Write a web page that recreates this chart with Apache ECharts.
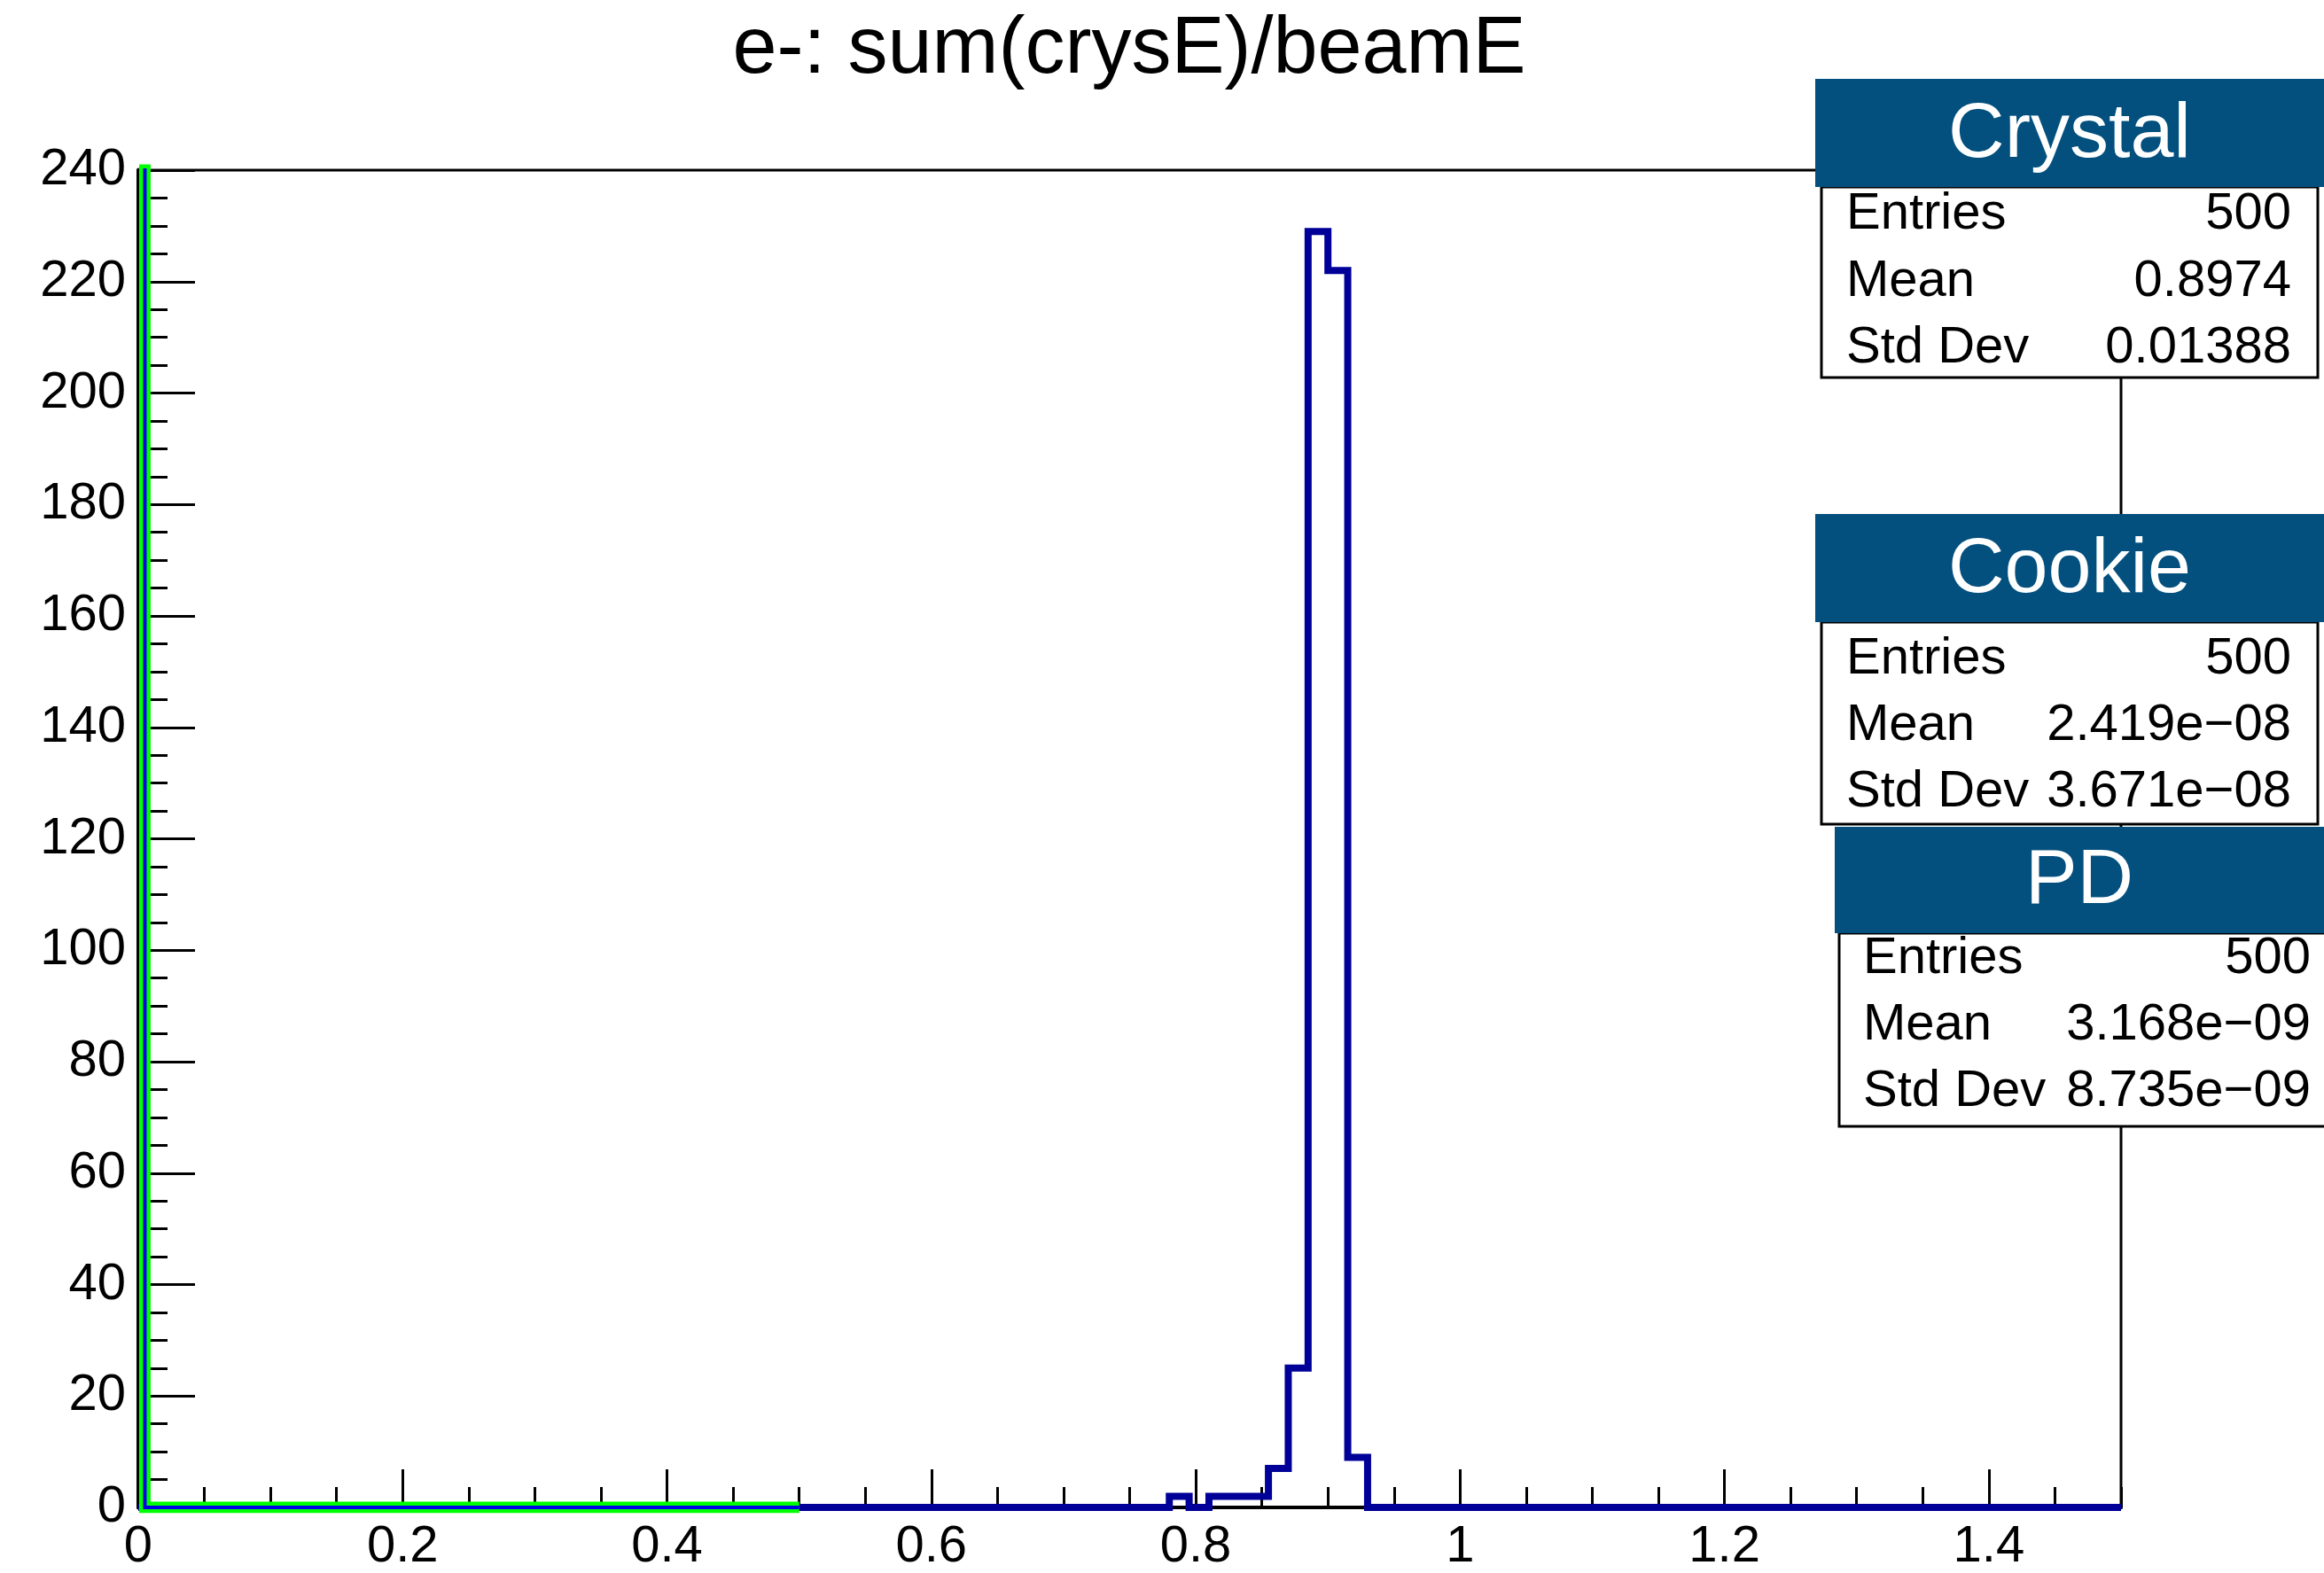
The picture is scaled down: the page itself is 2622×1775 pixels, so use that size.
<!DOCTYPE html>
<html><head><meta charset="utf-8">
<script src="https://cdn.jsdelivr.net/npm/echarts@6/dist/echarts.min.js"></script>
<style>html,body{margin:0;padding:0;background:#fff}#c{width:2622px;height:1775px}</style>
</head><body><div id="c"></div>
<script>
// ---- data ----
const titleText = 'e-: sum(crysE)/beamE';
const xMajorTicks = [0, 0.2, 0.4, 0.6, 0.8, 1, 1.2, 1.4];
const xRange = [0, 1.5];
const xMinorStep = 0.05;
const yMajorTicks = [0, 20, 40, 60, 80, 100, 120, 140, 160, 180, 200, 220, 240];
const yMinorStep = 5;

// Crystal histogram (variable-width representation of 100 bins over 0..1.5; unlisted bins are 0)
const crystalEdges  = [0, 0.78, 0.795, 0.81, 0.825, 0.84, 0.855, 0.87, 0.885, 0.9, 0.915, 0.93, 1.5];
const crystalCounts = [0, 2, 0, 2, 2, 2, 7, 25, 229, 222, 9, 0];
// Cookie histogram: all entries in first bin
const cookieEdges  = [0, 0.005, 0.5];
const cookieCounts = [500, 0];
// PD histogram: all entries in first bin
const pdEdges  = [0, 0.005, 0.5];
const pdCounts = [500, 0];

const statNames   = ['Crystal', 'Cookie', 'PD'];
const statLabels  = ['Entries', 'Mean', 'Std Dev'];
const statEntries = ['500', '500', '500'];
const statMeans   = ['0.8974', '2.419e\u221208', '3.168e\u221209'];
const statStdDevs = ['0.01388', '3.671e\u221208', '8.735e\u221209'];

// ---- helpers ----
function stepPath(edges, counts) {
  const pts = [];
  for (let i = 0; i < counts.length; i++) {
    pts.push([edges[i], counts[i]]);
    pts.push([edges[i + 1], counts[i]]);
  }
  return pts;
}

const FONT = '"Liberation Sans", Arial, Helvetica, sans-serif';
const chart = echarts.init(document.getElementById('c'), null, {renderer: 'canvas'});

const G = {left: 156, right: 229, top: 192, bottom: 70};

// stats box layout (tb / rb are text baselines)
const boxLayout = [
  {hx: 2048, hy: 89,  hw: 574, hh: 122, bx: 2055, by: 211,  bw: 560, bh: 215, tb: 184,  lx: 2083, vx: 2585, rb: [262, 338, 413]},
  {hx: 2048, hy: 580, hw: 574, hh: 122, bx: 2055, by: 702,  bw: 560, bh: 228, tb: 675,  lx: 2083, vx: 2585, rb: [764, 839, 914]},
  {hx: 2070, hy: 933, hw: 552, hh: 120, bx: 2075, by: 1053, bw: 600, bh: 218, tb: 1026, lx: 2102, vx: 2607, rb: [1102, 1177, 1252]}
];
const HS = 88, RS = 58, TS = 90;
const mid = (baseline, size) => baseline - 0.35 * size;
const graphics = [];
boxLayout.forEach((b, i) => {
  graphics.push({type: 'rect', z: 100, shape: {x: b.bx, y: b.by, width: b.bw, height: b.bh},
    style: {fill: '#fff', stroke: '#000', lineWidth: 3}});
  graphics.push({type: 'rect', z: 101, shape: {x: b.hx, y: b.hy, width: b.hw, height: b.hh},
    style: {fill: '#03507f'}});
  graphics.push({type: 'text', z: 102, x: b.hx + b.hw / 2, y: mid(b.tb, HS),
    style: {text: statNames[i], fill: '#fff', font: HS + 'px ' + FONT, textAlign: 'center', verticalAlign: 'middle'}});
  const vals = [statEntries[i], statMeans[i], statStdDevs[i]];
  statLabels.forEach((lab, r) => {
    graphics.push({type: 'text', z: 102, x: b.lx, y: mid(b.rb[r], RS),
      style: {text: lab, fill: '#000', font: RS + 'px ' + FONT, textAlign: 'left', verticalAlign: 'middle'}});
    graphics.push({type: 'text', z: 102, x: b.vx, y: mid(b.rb[r], RS),
      style: {text: vals[r], fill: '#000', font: RS + 'px ' + FONT, textAlign: 'right', verticalAlign: 'middle'}});
  });
});
graphics.push({type: 'text', z: 102, x: 1274, y: mid(89, TS),
  style: {text: titleText, fill: '#000', font: TS + 'px ' + FONT, textAlign: 'center', verticalAlign: 'middle'}});

const yMin = yMajorTicks[0], yMax = yMajorTicks[yMajorTicks.length - 1];
const yInt = yMajorTicks[1] - yMajorTicks[0];
const xInt = xMajorTicks[1] - xMajorTicks[0];

chart.setOption({
  animation: false,
  backgroundColor: '#fff',
  grid: {left: G.left, right: G.right, top: G.top, bottom: G.bottom, show: true,
    borderColor: '#000', borderWidth: 3, backgroundColor: 'transparent', containLabel: false},
  xAxis: [
    {type: 'value', min: xRange[0], max: xRange[1], interval: xMinorStep, position: 'bottom',
      axisLine: {show: true, onZero: false, lineStyle: {color: '#000', width: 4}},
      axisTick: {show: true, inside: true, length: 23, lineStyle: {color: '#000', width: 3}},
      axisLabel: {show: false}, splitLine: {show: false}},
    {type: 'value', min: xRange[0], max: xRange[1], interval: xInt, position: 'bottom',
      axisLine: {show: false, onZero: false},
      axisTick: {show: true, inside: true, length: 43, lineStyle: {color: '#000', width: 3}},
      axisLabel: {show: true, color: '#000', fontSize: 58, fontFamily: FONT, margin: 16, showMaxLabel: false,
        formatter: v => { const k = xMajorTicks.indexOf(Math.round(v * 1000) / 1000); return k >= 0 ? String(xMajorTicks[k]) : ''; }},
      splitLine: {show: false}}
  ],
  yAxis: {type: 'value', min: yMin, max: yMax, interval: yInt,
    axisLine: {show: true, onZero: false, lineStyle: {color: '#000', width: 5}},
    axisTick: {show: true, inside: true, length: 64, lineStyle: {color: '#000', width: 3}},
    minorTick: {show: true, splitNumber: yInt / yMinorStep, length: 33, lineStyle: {color: '#000', width: 3}},
    axisLabel: {show: true, color: '#000', fontSize: 58, fontFamily: FONT, margin: 14},
    splitLine: {show: false}, minorSplitLine: {show: false}},
  series: [
    {name: 'Crystal', type: 'line', xAxisIndex: 0, data: stepPath(crystalEdges, crystalCounts),
      showSymbol: false, symbol: 'none', clip: true, z: 3,
      lineStyle: {color: '#000099', width: 8, join: 'miter'}},
    {name: 'PD', type: 'line', xAxisIndex: 0, data: stepPath(pdEdges, pdCounts),
      showSymbol: false, symbol: 'none', clip: true, z: 4,
      lineStyle: {color: '#00ff00', width: 13, join: 'miter'}},
    {name: 'Cookie', type: 'line', xAxisIndex: 0, data: stepPath(cookieEdges, cookieCounts),
      showSymbol: false, symbol: 'none', clip: true, z: 5,
      lineStyle: {color: '#0000e6', width: 4, join: 'miter'}}
  ],
  graphic: graphics
});
</script>
</body></html>
